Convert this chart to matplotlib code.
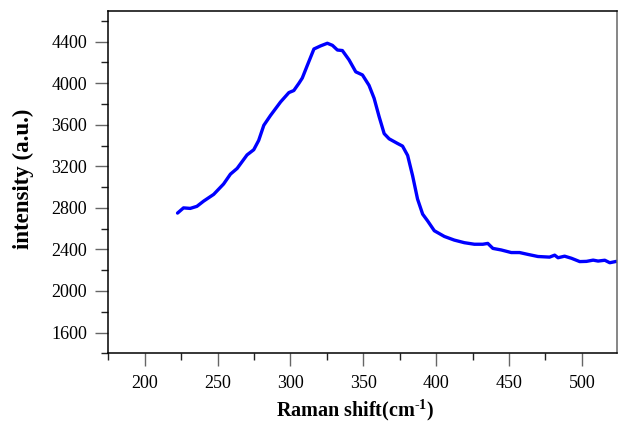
import matplotlib
matplotlib.use("Agg")
import matplotlib.pyplot as plt
from matplotlib.ticker import MultipleLocator

plt.rcParams['font.family'] = ['Liberation Serif', 'DejaVu Serif']
plt.rcParams['mathtext.fontset'] = 'custom'
plt.rcParams['mathtext.rm'] = 'Liberation Serif:bold'
plt.rcParams['mathtext.bf'] = 'Liberation Serif:bold'

# Raman spectrum
shift = [222.5, 226.6, 231.2, 235.8, 240.4, 247.3, 254.1, 258.8, 263.4, 270.2,
         274.8, 278.2, 281.7, 286.3, 293.2, 298.9, 302.3, 305.8, 308.1, 311.5,
         316.1, 320.7, 325.3, 328.8, 332.2, 335.6, 340.2, 344.8, 349.4, 353.9,
         357.4, 360.8, 364.3, 367.7, 373.5, 376.9, 380.4, 383.8, 387.2, 390.7,
         394.1, 398.7, 405.6, 412.4, 419.3, 426.2, 432.0, 435.4, 438.9, 444.6,
         451.5, 457.2, 463.0, 469.8, 477.8, 481.3, 483.6, 488.1, 492.8, 498.5,
         503.1, 507.7, 511.1, 515.7, 519.1, 523.7]
intensity = [2750, 2800, 2795, 2815, 2865, 2930, 3030, 3125, 3180, 3310,
             3360, 3450, 3595, 3690, 3820, 3910, 3930, 4000, 4050, 4170,
             4330, 4360, 4385, 4365, 4320, 4315, 4225, 4110, 4080, 3980,
             3855, 3680, 3515, 3465, 3420, 3395, 3305, 3110, 2885, 2740,
             2675, 2580, 2525, 2490, 2465, 2450, 2450, 2458, 2410, 2395,
             2370, 2370, 2352, 2332, 2326, 2345, 2320, 2335, 2315, 2283,
             2285, 2297, 2288, 2296, 2272, 2285]

fig = plt.figure(figsize=(6.2, 4.22), dpi=100)
ax = fig.add_axes([0.1747, 0.1628, 0.8203, 0.8122])

ax.plot(shift, intensity, color='#0000ff', linewidth=2.4,
        solid_joinstyle='round', solid_capstyle='round')

ax.set_xlim(175, 524)
ax.set_ylim(1400, 4700)
ax.xaxis.set_major_locator(MultipleLocator(50))
ax.xaxis.set_minor_locator(MultipleLocator(25))
ax.yaxis.set_major_locator(MultipleLocator(400))
ax.yaxis.set_minor_locator(MultipleLocator(200))
ax.tick_params(which='major', length=9.4, width=1, color='#666666',
               labelsize=13, pad=6)
ax.tick_params(which='minor', length=5, width=1, color='#222222')

for s in ax.spines.values():
    s.set_linewidth(1.1)
ax.spines['right'].set_color('#666666')

ax.set_xlabel(r'Raman shift(cm$^{\text{-1}}$)', fontsize=14.5, fontweight='bold')
ax.set_ylabel('intensity (a.u.)', fontsize=16.5, fontweight='bold')
ax.xaxis.set_label_coords(0.485, -0.128)
ax.yaxis.set_label_coords(-0.147, 0.51)

fig.savefig('out.png', dpi=100)
